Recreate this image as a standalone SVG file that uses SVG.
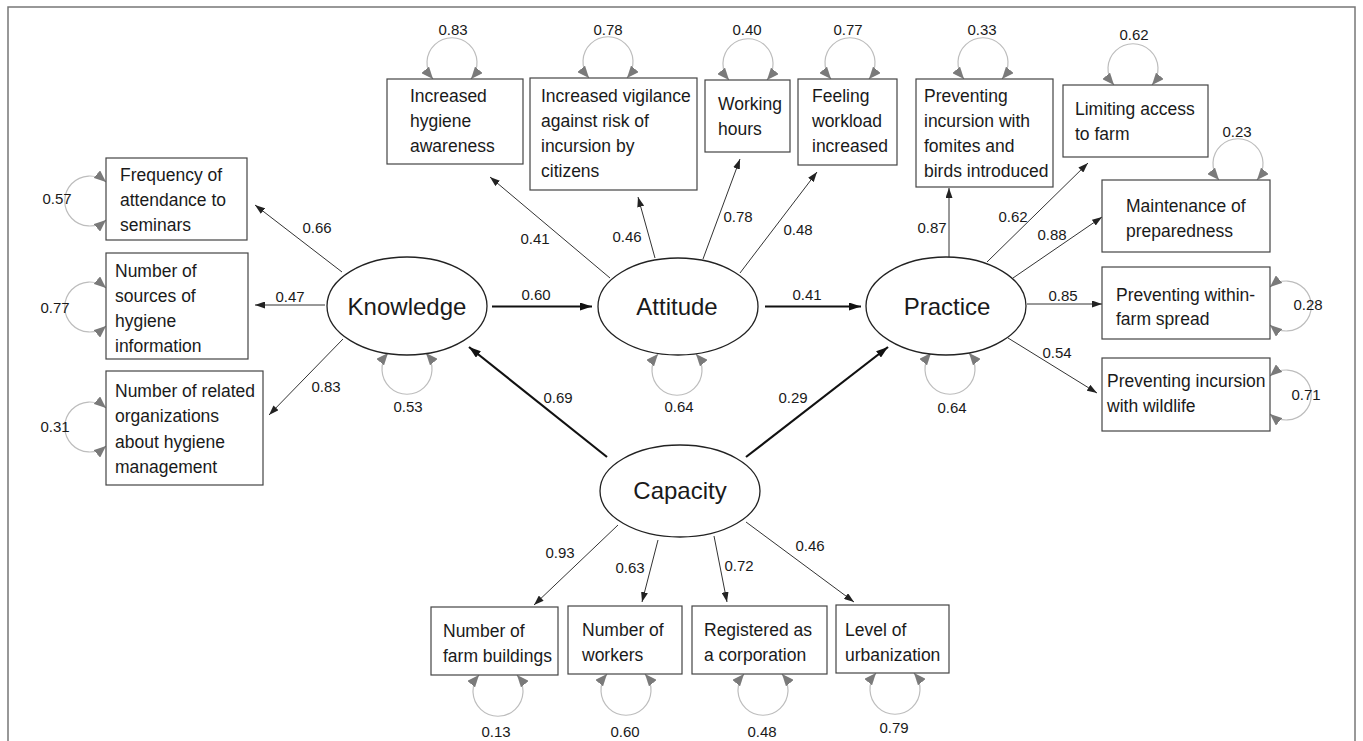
<svg xmlns="http://www.w3.org/2000/svg" width="1363" height="741" viewBox="0 0 1363 741">
<style>
text{font-family:"Liberation Sans",Arial,sans-serif;fill:#1a1a1a}
.t{font-size:17.5px}
.n{font-size:15px;text-anchor:middle}
.e{font-size:24px;text-anchor:middle}
.box{fill:#fff;stroke:#444;stroke-width:1.2}
.ell{fill:#fff;stroke:#222;stroke-width:1.3}
.a{stroke:#333;stroke-width:1;fill:none;marker-end:url(#ah)}
.A{stroke:#111;stroke-width:2.2;fill:none;marker-end:url(#AH)}
.lp{stroke:#bdbdbd;stroke-width:1.2;fill:none;marker-start:url(#gh);marker-end:url(#gh)}
</style>
<defs>
<marker id="ah" viewBox="0 0 10 7" refX="10" refY="3.5" markerWidth="10" markerHeight="7" markerUnits="userSpaceOnUse" orient="auto"><path d="M0,0 L10,3.5 L0,7 z" fill="#222"/></marker>
<marker id="AH" viewBox="0 0 12 8" refX="12" refY="4" markerWidth="12" markerHeight="8" markerUnits="userSpaceOnUse" orient="auto"><path d="M0,0 L12,4 L0,8 z" fill="#111"/></marker>
<marker id="gh" viewBox="0 0 12 10" refX="12" refY="5" markerWidth="12" markerHeight="10" markerUnits="userSpaceOnUse" orient="auto-start-reverse"><path d="M0,0 L12,5 L0,10 z" fill="#7a7a7a"/></marker>
</defs>
<rect x="8" y="7" width="1347" height="760" fill="#fff" stroke="#777" stroke-width="1.5"/>

<g id="connectors">
<line class="a" x1="342" y1="272" x2="255" y2="205"/>
<line class="a" x1="325" y1="305" x2="255" y2="305"/>
<line class="a" x1="343" y1="339" x2="269" y2="415"/>
<line class="a" x1="610" y1="278" x2="490" y2="177"/>
<line class="a" x1="655" y1="258" x2="638" y2="197"/>
<line class="a" x1="703" y1="259" x2="740" y2="159"/>
<line class="a" x1="740" y1="273" x2="817" y2="172"/>
<line class="a" x1="949" y1="257" x2="949" y2="188"/>
<line class="a" x1="987" y1="262" x2="1088" y2="163"/>
<line class="a" x1="1013" y1="278" x2="1102" y2="217"/>
<line class="a" x1="1027" y1="304" x2="1102" y2="304"/>
<line class="a" x1="1008" y1="338" x2="1097" y2="393"/>
<line class="a" x1="618" y1="525" x2="534" y2="605"/>
<line class="a" x1="658" y1="540" x2="642" y2="602"/>
<line class="a" x1="714" y1="536" x2="727" y2="602"/>
<line class="a" x1="746" y1="522" x2="854" y2="602"/>
<line class="A" x1="492" y1="306.5" x2="592" y2="306.5"/>
<line class="A" x1="765" y1="306.5" x2="861" y2="306.5"/>
<line class="A" x1="607" y1="457" x2="469" y2="347"/>
<line class="A" x1="746" y1="457" x2="888" y2="347"/>
<path class="lp" d="M106,182 A25,25 0 1 0 106,220"/>
<path class="lp" d="M106,288 A25,25 0 1 0 106,326"/>
<path class="lp" d="M106,408 A25,25 0 1 0 106,446"/>
<path class="lp" d="M433,79 A25,25 0 1 1 471,79"/>
<path class="lp" d="M589,78 A25,25 0 1 1 627,78"/>
<path class="lp" d="M729,80 A25,25 0 1 1 767,80"/>
<path class="lp" d="M831,79 A25,25 0 1 1 869,79"/>
<path class="lp" d="M964,79 A25,25 0 1 1 1002,79"/>
<path class="lp" d="M1114,85 A25,25 0 1 1 1152,85"/>
<path class="lp" d="M1219,180 A25,25 0 1 1 1257,180"/>
<path class="lp" d="M1270,287 A25,25 0 1 1 1270,325"/>
<path class="lp" d="M1270,376 A25,25 0 1 1 1270,414"/>
<path class="lp" d="M479,675 A25,25 0 1 0 517,675"/>
<path class="lp" d="M607,674 A25,25 0 1 0 645,674"/>
<path class="lp" d="M744,674 A25,25 0 1 0 782,674"/>
<path class="lp" d="M876,673 A25,25 0 1 0 914,673"/>
<path class="lp" d="M388,353 A25,25 0 1 0 426,353"/>
<path class="lp" d="M658,354 A25,25 0 1 0 696,354"/>
<path class="lp" d="M931,353 A25,25 0 1 0 969,353"/>
<text class="n" x="317" y="233">0.66</text>
<text class="n" x="290" y="302">0.47</text>
<text class="n" x="326" y="392">0.83</text>
<text class="n" x="536" y="300">0.60</text>
<text class="n" x="807" y="300">0.41</text>
<text class="n" x="535" y="244">0.41</text>
<text class="n" x="627" y="242">0.46</text>
<text class="n" x="738" y="222">0.78</text>
<text class="n" x="798" y="235">0.48</text>
<text class="n" x="932" y="233">0.87</text>
<text class="n" x="1013" y="222">0.62</text>
<text class="n" x="1052" y="240">0.88</text>
<text class="n" x="1063" y="301">0.85</text>
<text class="n" x="1057" y="358">0.54</text>
<text class="n" x="558" y="403">0.69</text>
<text class="n" x="793" y="403">0.29</text>
<text class="n" x="560" y="558">0.93</text>
<text class="n" x="630" y="573">0.63</text>
<text class="n" x="739" y="571">0.72</text>
<text class="n" x="810" y="551">0.46</text>
<text class="n" x="57" y="204">0.57</text>
<text class="n" x="55" y="313">0.77</text>
<text class="n" x="55" y="432">0.31</text>
<text class="n" x="453" y="35">0.83</text>
<text class="n" x="608" y="35">0.78</text>
<text class="n" x="747" y="35">0.40</text>
<text class="n" x="848" y="35">0.77</text>
<text class="n" x="982" y="35">0.33</text>
<text class="n" x="1134" y="40">0.62</text>
<text class="n" x="1237" y="137">0.23</text>
<text class="n" x="1308" y="310">0.28</text>
<text class="n" x="1306" y="400">0.71</text>
<text class="n" x="496" y="737">0.13</text>
<text class="n" x="625" y="737">0.60</text>
<text class="n" x="762" y="737">0.48</text>
<text class="n" x="894" y="733">0.79</text>
<text class="n" x="408" y="412">0.53</text>
<text class="n" x="679" y="412">0.64</text>
<text class="n" x="952" y="413">0.64</text>
</g>

<g id="knowledge"><ellipse class="ell" cx="407" cy="306" rx="80" ry="49"/><text class="e" x="407" y="315">Knowledge</text></g>
<g id="attitude"><ellipse class="ell" cx="678" cy="306.5" rx="80" ry="48.5"/><text class="e" x="677" y="315">Attitude</text></g>
<g id="practice"><ellipse class="ell" cx="946" cy="306" rx="80" ry="49"/><text class="e" x="947" y="315">Practice</text></g>
<g id="capacity"><ellipse class="ell" cx="680" cy="491" rx="80" ry="46"/><text class="e" x="680" y="499">Capacity</text></g>

<g id="k1"><rect class="box" x="106" y="158" width="141" height="82"/><text class="t" x="120" y="181">Frequency of</text><text class="t" x="120" y="206">attendance to</text><text class="t" x="120" y="231">seminars</text></g>
<g id="k2"><rect class="box" x="106" y="253" width="142" height="106"/><text class="t" x="115" y="277">Number of</text><text class="t" x="115" y="302">sources of</text><text class="t" x="115" y="327">hygiene</text><text class="t" x="115" y="352">information</text></g>
<g id="k3"><rect class="box" x="106" y="371" width="157" height="114"/><text class="t" x="115" y="397">Number of related</text><text class="t" x="115" y="422">organizations</text><text class="t" x="115" y="448">about hygiene</text><text class="t" x="115" y="473">management</text></g>

<g id="a1"><rect class="box" x="387" y="79" width="136" height="85"/><text class="t" x="410" y="102">Increased</text><text class="t" x="410" y="127">hygiene</text><text class="t" x="410" y="152">awareness</text></g>
<g id="a2"><rect class="box" x="530" y="78" width="167" height="112"/><text class="t" x="541" y="102">Increased vigilance</text><text class="t" x="541" y="127">against risk of</text><text class="t" x="541" y="152">incursion by</text><text class="t" x="541" y="177">citizens</text></g>
<g id="a3"><rect class="box" x="705" y="80" width="85" height="72"/><text class="t" x="718" y="110">Working</text><text class="t" x="718" y="135">hours</text></g>
<g id="a4"><rect class="box" x="798" y="79" width="99" height="86"/><text class="t" x="812" y="102">Feeling</text><text class="t" x="812" y="127">workload</text><text class="t" x="812" y="152">increased</text></g>

<g id="p1"><rect class="box" x="916" y="79" width="137" height="108"/><text class="t" x="924" y="102">Preventing</text><text class="t" x="924" y="127">incursion with</text><text class="t" x="924" y="152">fomites and</text><text class="t" x="924" y="177">birds introduced</text></g>
<g id="p2"><rect class="box" x="1063" y="85" width="145" height="72"/><text class="t" x="1075" y="115">Limiting access</text><text class="t" x="1075" y="140">to farm</text></g>
<g id="p3"><rect class="box" x="1102" y="180" width="168" height="72"/><text class="t" x="1126" y="212">Maintenance of</text><text class="t" x="1126" y="237">preparedness</text></g>
<g id="p4"><rect class="box" x="1102" y="267" width="168" height="72"/><text class="t" x="1116" y="301">Preventing within-</text><text class="t" x="1116" y="325">farm spread</text></g>
<g id="p5"><rect class="box" x="1102" y="358" width="168" height="73"/><text class="t" x="1107" y="387">Preventing incursion</text><text class="t" x="1107" y="412">with wildlife</text></g>

<g id="c1"><rect class="box" x="431" y="607" width="127" height="68"/><text class="t" x="443" y="637">Number of</text><text class="t" x="443" y="662">farm buildings</text></g>
<g id="c2"><rect class="box" x="568" y="606" width="114" height="68"/><text class="t" x="582" y="636">Number of</text><text class="t" x="582" y="661">workers</text></g>
<g id="c3"><rect class="box" x="692" y="606" width="135" height="68"/><text class="t" x="704" y="636">Registered as</text><text class="t" x="704" y="661">a corporation</text></g>
<g id="c4"><rect class="box" x="836" y="605" width="113" height="68"/><text class="t" x="845" y="636">Level of</text><text class="t" x="845" y="661">urbanization</text></g>
</svg>
